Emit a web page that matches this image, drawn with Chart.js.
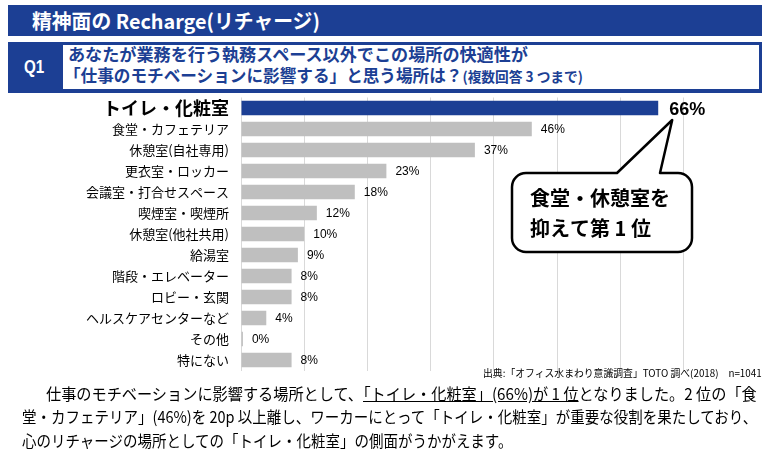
<!DOCTYPE html>
<html lang="ja">
<head>
<meta charset="utf-8">
<script src="https://cdn.jsdelivr.net/npm/chart.js@4"></script>
<style>
  body { margin: 0; background: #fff; }
  #page { position: relative; width: 770px; height: 458px; overflow: hidden; font-family: "Noto Sans CJK JP", sans-serif; }
  .box { position: absolute; }
  .txt { position: absolute; white-space: nowrap; transform-origin: left center; line-height: 1; }
  #chartWrap { position: absolute; left: 0; top: 92px; }
</style>
</head>
<body>
<div id="page">
  <div class="box" style="left:8px;top:5px;width:754px;height:31px;background:#1c3f94;"></div>
  <div class="txt fit" data-w="288" style="left:32px;top:21px;color:#fff;font-weight:bold;font-size:20px;">精神面の Recharge(リチャージ)</div>

  <div class="box" style="left:8px;top:42px;width:754px;height:51px;background:#1c3f94;"></div>
  <div class="box" style="left:63px;top:45px;width:696px;height:44px;background:#fff;"></div>
  <div class="txt fit" data-w="20" style="left:24px;top:66px;color:#fff;font-weight:bold;font-size:19px;font-family:'Liberation Sans',sans-serif;">Q1</div>
  <div class="txt fit" data-w="460" style="left:68px;top:53px;color:#1c3f94;font-weight:bold;font-size:17px;">あなたが業務を行う執務スペース以外でこの場所の快適性が</div>
  <div class="txt fit" data-w="519" style="left:64px;top:74px;color:#1c3f94;font-weight:bold;font-size:17px;">「仕事のモチベーションに影響する」と思う場所は？<span style="font-size:14px;">(複数回答 3 つまで)</span></div>

  <div id="chartWrap"><canvas id="chart" width="770" height="283"></canvas></div>

  <div class="txt fit" data-w="279" style="left:483px;top:373px;color:#000;font-size:10px;">出典:「オフィス水まわり意識調査」TOTO 調べ(2018)　n=1041</div>

  <div class="txt fit" data-w="711" style="left:46px;top:393px;color:#000;font-size:16px;">仕事のモチベーションに影響する場所として、<u>「トイレ・化粧室」(66%)が 1 位</u>となりました。2 位の「食</div>
  <div class="txt fit" data-w="735" style="left:22px;top:416px;color:#000;font-size:16px;">堂・カフェテリア」(46%)を 20p 以上離し、ワーカーにとって「トイレ・化粧室」が重要な役割を果たしており、</div>
  <div class="txt fit" data-w="490" style="left:22px;top:440px;color:#000;font-size:16px;">心のリチャージの場所としての「トイレ・化粧室」の側面がうかがえます。</div>
</div>

<script>
// data -------------------------------------------------------
const categories = [
  "トイレ・化粧室", "食堂・カフェテリア", "休憩室(自社専用)", "更衣室・ロッカー",
  "会議室・打合せスペース", "喫煙室・喫煙所", "休憩室(他社共用)", "給湯室",
  "階段・エレベーター", "ロビー・玄関", "ヘルスケアセンターなど", "その他", "特にない"
];
const values = [66, 46, 37, 23, 18, 12, 10, 9, 8, 8, 4, 0.3, 8];
const xTicks = [0, 10, 20, 30, 40, 50, 60, 70];
const calloutLines = ["食堂・休憩室を", "抑えて第 1 位"];

// squeeze text blocks to the widths in the picture
document.querySelectorAll(".fit").forEach(function (el) {
  const w = +el.dataset.w;
  el.style.transform = "translateY(-50%) scaleX(" + (w / el.offsetWidth) + ")";
});

// value labels at bar ends
const valueLabels = {
  id: "valueLabels",
  afterDatasetsDraw(chart) {
    const ctx = chart.ctx;
    const meta = chart.getDatasetMeta(0);
    ctx.save();
    ctx.fillStyle = "#000";
    ctx.textBaseline = "middle";
    meta.data.forEach(function (bar, i) {
      const txt = Math.round(values[i]) + "%";
      if (i === 0) {
        ctx.font = "bold 18px 'Liberation Sans', sans-serif";
        ctx.fillText(txt, bar.x + 11, bar.y + 2);
      } else {
        ctx.font = "12px 'Liberation Sans', sans-serif";
        ctx.fillText(txt, bar.x + 9, bar.y + 1);
      }
    });
    ctx.restore();
  }
};

// speech bubble pointing at the top bar's label
const callout = {
  id: "callout",
  afterDraw(chart) {
    const ctx = chart.ctx;
    const top = chart.getDatasetMeta(0).data[0];
    const tipX = top.x + 14, tipY = top.y + 12;
    const x0 = 512, x1 = 692, y0 = 81, y1 = 160, r = 14;
    ctx.save();
    ctx.beginPath();
    ctx.moveTo(x0 + r, y0);
    ctx.lineTo(617, y0);
    ctx.lineTo(tipX, tipY);
    ctx.lineTo(660, y0);
    ctx.arcTo(x1, y0, x1, y1, r);
    ctx.arcTo(x1, y1, x0, y1, r);
    ctx.arcTo(x0, y1, x0, y0, r);
    ctx.arcTo(x0, y0, x1, y0, r);
    ctx.closePath();
    ctx.fillStyle = "#fff";
    ctx.fill();
    ctx.lineWidth = 2.5;
    ctx.strokeStyle = "#000";
    ctx.lineJoin = "round";
    ctx.stroke();
    ctx.fillStyle = "#000";
    ctx.font = "bold 20px 'Noto Sans CJK JP', sans-serif";
    ctx.textBaseline = "middle";
    ctx.fillText(calloutLines[0], 530, 106);
    ctx.fillText(calloutLines[1], 530, 136);
    ctx.restore();
  }
};

const data = {
  labels: categories,
  datasets: [{
    data: values,
    backgroundColor: values.map((v, i) => (i === 0 ? "#1c3f94" : "#bfbfbf")),
    barPercentage: 1,
    categoryPercentage: 0.7
  }]
};

const config = {
  type: "bar",
  data: data,
  options: {
    indexAxis: "y",
    responsive: false,
    animation: false,
    layout: { padding: { left: 0, right: 86.5, top: 5.5, bottom: 4.5 } },
    plugins: { legend: { display: false }, tooltip: { enabled: false } },
    scales: {
      x: {
        min: xTicks[0],
        max: xTicks[xTicks.length - 1],
        afterBuildTicks: (s) => { s.ticks = xTicks.map((v) => ({ value: v })); },
        afterFit: (s) => { s.height = 0; s.paddingLeft = 0; s.paddingRight = 0; },
        ticks: { display: false },
        grid: { color: "#d9d9d9", drawTicks: false, lineWidth: 1 },
        border: { display: false }
      },
      y: {
        afterFit: (s) => { s.width = 241; s.paddingTop = 0; s.paddingBottom = 0; },
        grid: { display: false },
        border: { display: false },
        ticks: {
          padding: 4,
          color: "#000",
          autoSkip: false,
          font: (c) => c.index === 0
            ? { family: "'Noto Sans CJK JP', sans-serif", size: 18, weight: "bold" }
            : { family: "'Noto Sans CJK JP', sans-serif", size: 13 }
        }
      }
    }
  },
  plugins: [valueLabels, callout]
};

new Chart(document.getElementById("chart"), config);
</script>
</body>
</html>
